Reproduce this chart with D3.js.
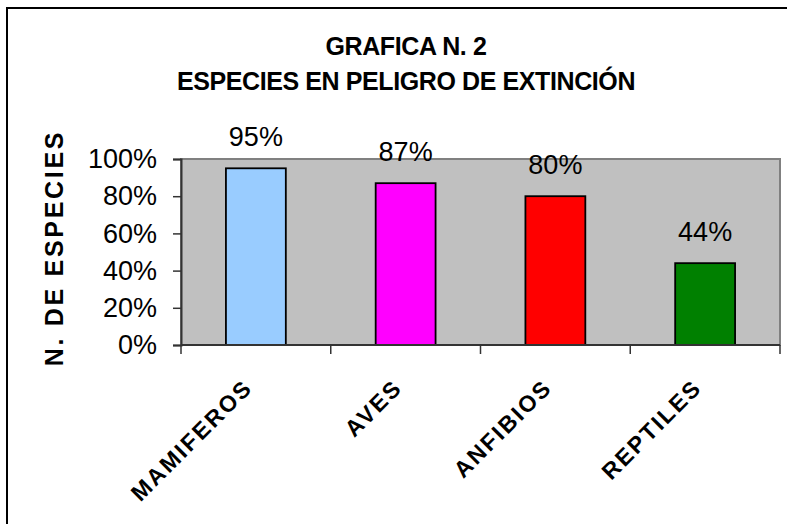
<!DOCTYPE html>
<html>
<head>
<meta charset="utf-8">
<script src="https://cdn.jsdelivr.net/npm/d3@7"></script>
<style>
  html, body { margin: 0; padding: 0; background: #ffffff; }
  svg { display: block; }
  text { font-family: "Liberation Sans", Arial, sans-serif; }
</style>
</head>
<body>
<div id="chart"></div>
<script>
const categories = ["MAMIFEROS", "AVES", "ANFIBIOS", "REPTILES"];
const values = [0.95, 0.87, 0.80, 0.44];
const barColors = ["#99CCFF", "#FF00FF", "#FF0000", "#008000"];
const yTicks = [0, 0.2, 0.4, 0.6, 0.8, 1.0];
const titleLines = ["GRAFICA N. 2", "ESPECIES EN PELIGRO DE EXTINCIÓN"];
const yAxisTitle = "N. DE ESPECIES";

const W = 787, H = 524;
const plot = { left: 181, right: 780, top: 159, bottom: 345 };

const svg = d3.select("#chart").append("svg")
  .attr("width", W).attr("height", H);

// outer chart border (extends beyond the visible frame on right/bottom)
svg.append("rect")
  .attr("x", 7).attr("y", 8)
  .attr("width", 900).attr("height", 700)
  .attr("fill", "none").attr("stroke", "#000").attr("stroke-width", 2);

// titles
svg.append("g").selectAll("text").data(titleLines).join("text")
  .attr("x", 406)
  .attr("y", (d, i) => 55 + i * 35)
  .attr("text-anchor", "middle")
  .attr("font-weight", "bold")
  .attr("font-size", 25)
  .attr("letter-spacing", -0.4)
  .attr("fill", "#000")
  .text(d => d);

const x = d3.scaleBand().domain(categories).range([plot.left, plot.right]).padding(0);
const y = d3.scaleLinear().domain([0, 1]).range([plot.bottom, plot.top]);

// plot area
svg.append("rect")
  .attr("x", plot.left).attr("y", plot.top)
  .attr("width", plot.right - plot.left).attr("height", plot.bottom - plot.top)
  .attr("fill", "#C0C0C0").attr("stroke", "#808080").attr("stroke-width", 2);

// bars
const bw = x.bandwidth() * 0.4;
svg.append("g").selectAll("rect").data(categories).join("rect")
  .attr("x", d => x(d) + (x.bandwidth() - bw) / 2)
  .attr("y", (d, i) => y(values[i]))
  .attr("width", bw)
  .attr("height", (d, i) => y(0) - y(values[i]))
  .attr("fill", (d, i) => barColors[i])
  .attr("stroke", "#000").attr("stroke-width", 1.8);

// value labels
svg.append("g").selectAll("text").data(categories).join("text")
  .attr("x", d => x(d) + x.bandwidth() / 2)
  .attr("y", (d, i) => y(values[i]) - 22)
  .attr("text-anchor", "middle")
  .attr("font-size", 27)
  .attr("fill", "#000")
  .text((d, i) => d3.format(".0%")(values[i]));

// y axis
const yAxis = svg.append("g")
  .attr("transform", `translate(${plot.left},0)`)
  .call(d3.axisLeft(y).tickValues(yTicks).tickFormat(d3.format(".0%")).tickSize(8).tickPadding(16));
yAxis.select(".domain").attr("stroke", "#333").attr("stroke-width", 2);
yAxis.selectAll(".tick line").attr("stroke", "#333").attr("stroke-width", 1.5);
yAxis.selectAll(".tick text")
  .attr("font-family", "'Liberation Sans', Arial, sans-serif")
  .attr("font-size", 27).attr("fill", "#000");

// x axis line and boundary ticks
const gx = svg.append("g");
gx.append("line")
  .attr("x1", plot.left).attr("x2", plot.right)
  .attr("y1", y(0)).attr("y2", y(0))
  .attr("stroke", "#333").attr("stroke-width", 2);
const bounds = categories.map(c => x(c)).concat([x(categories[categories.length - 1]) + x.bandwidth()]);
gx.selectAll("line.tick").data(bounds).join("line")
  .attr("class", "tick")
  .attr("x1", d => d).attr("x2", d => d)
  .attr("y1", y(0)).attr("y2", y(0) + 9)
  .attr("stroke", "#333").attr("stroke-width", 1.5);

// category labels (rotated)
gx.selectAll("text").data(categories).join("text")
  .attr("transform", d => `translate(${x(d) + x.bandwidth() / 2 - 2},389) rotate(-45)`)
  .attr("text-anchor", "end")
  .attr("font-weight", "bold")
  .attr("font-size", 23)
  .attr("letter-spacing", 2.2)
  .attr("fill", "#000")
  .text(d => d);

// y axis title
svg.append("text")
  .attr("transform", "translate(63,248) rotate(-90)")
  .attr("text-anchor", "middle")
  .attr("font-weight", "bold")
  .attr("font-size", 25)
  .attr("letter-spacing", 2.7)
  .attr("fill", "#000")
  .text(yAxisTitle);
</script>
</body>
</html>
